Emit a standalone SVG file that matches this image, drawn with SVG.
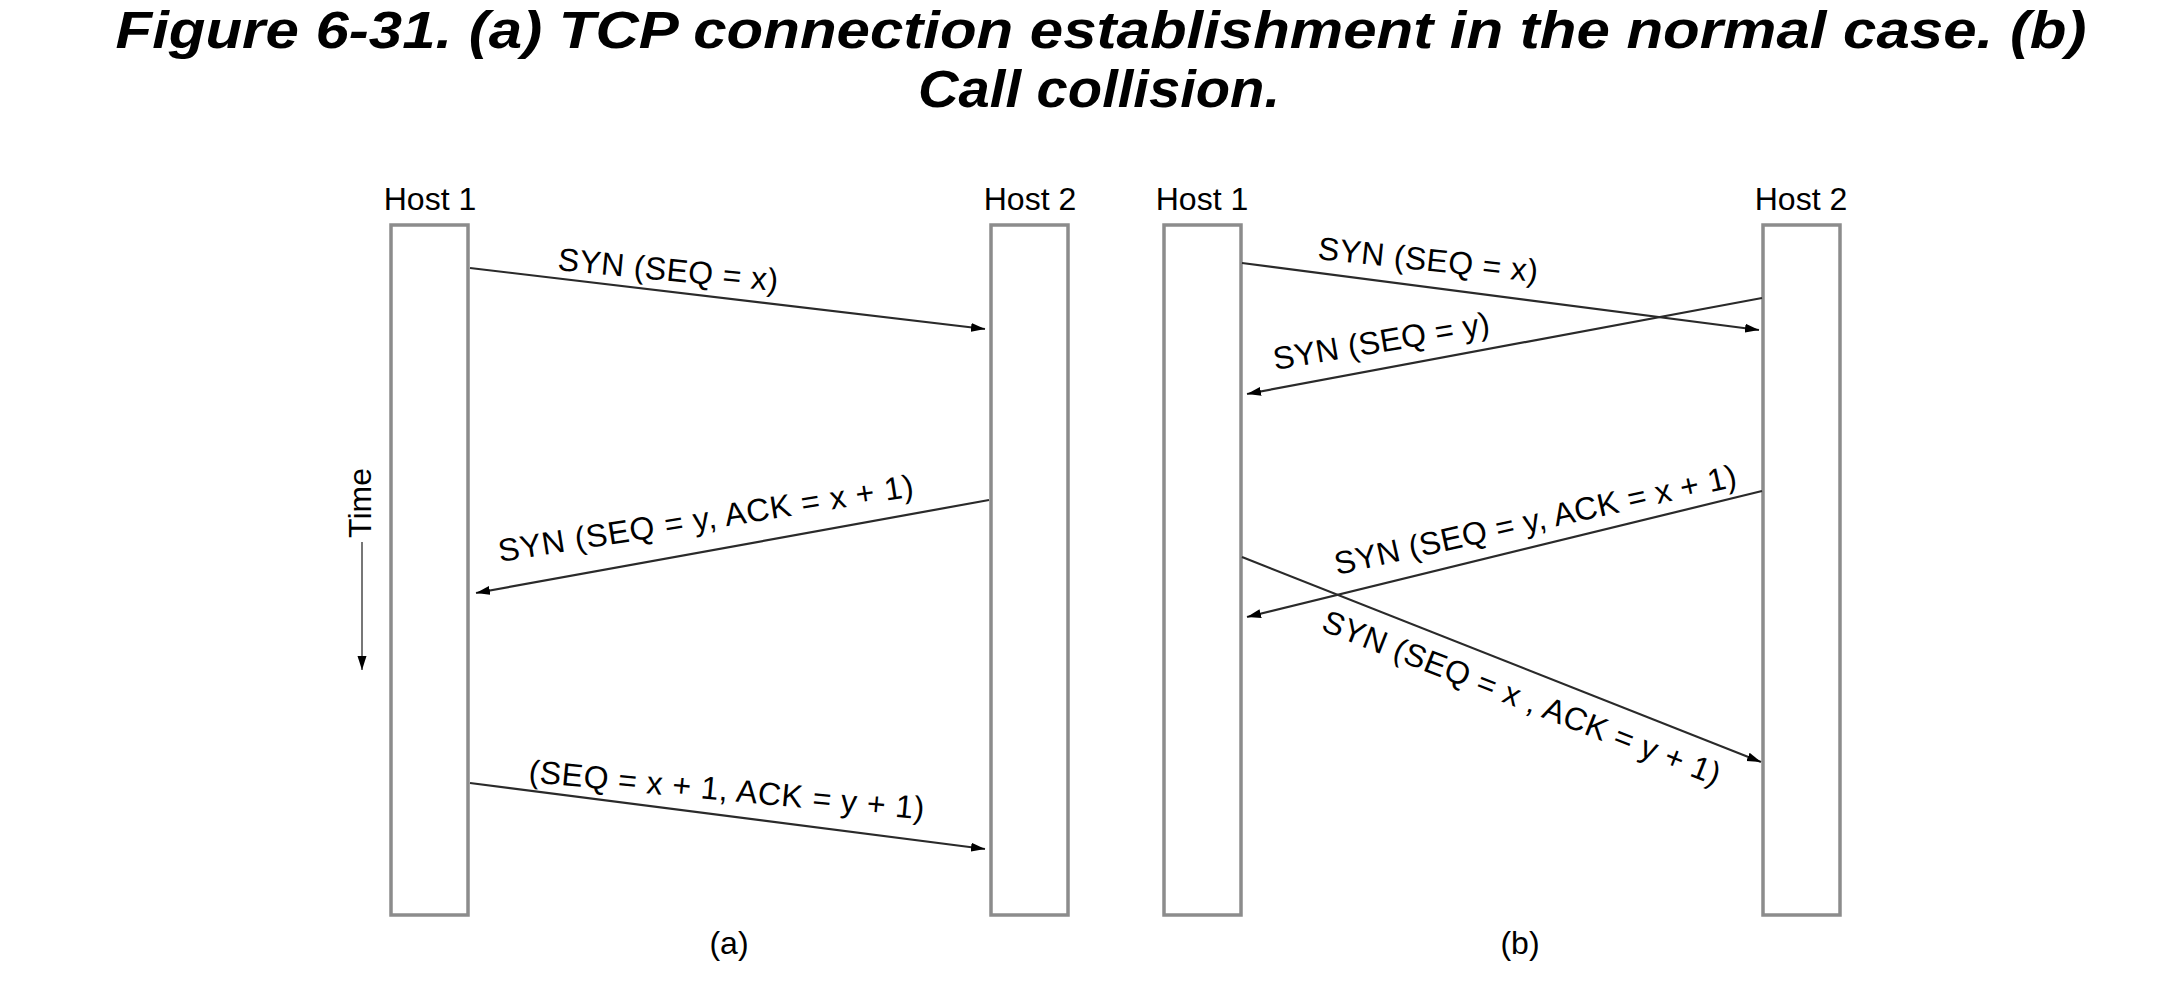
<svg xmlns="http://www.w3.org/2000/svg" width="2165" height="1003" viewBox="0 0 2165 1003">
<style>
.title{font-family:"Liberation Sans",Arial,sans-serif;font-weight:bold;font-style:italic;font-size:51px;fill:#000}
.host{font-family:"Liberation Sans",Arial,sans-serif;font-size:32px;fill:#000}
.lbl{font-family:"Liberation Sans",Arial,sans-serif;font-size:32px;fill:#000}
.box{fill:#fff;stroke:#8c8c8c;stroke-width:3.5}
.msg{stroke:#2a2a2a;stroke-width:2.2;fill:none;marker-end:url(#ah)}
.time{stroke:#777;stroke-width:2;fill:none;marker-end:url(#ah)}
</style>
<defs>
<marker id="ah" viewBox="0 0 14 10" refX="14" refY="5" markerWidth="14" markerHeight="10" markerUnits="userSpaceOnUse" orient="auto">
<path d="M0,0.5 L14,5 L0,9.5 z" fill="#000"/>
</marker>
</defs>
<rect width="2165" height="1003" fill="#fff"/>
<g id="title">
<text class="title" x="1101" y="48" text-anchor="middle" textLength="1971" lengthAdjust="spacingAndGlyphs">Figure 6-31. (a) TCP connection establishment in the normal case. (b)</text>
<text class="title" x="1099" y="107" text-anchor="middle" textLength="362" lengthAdjust="spacingAndGlyphs">Call collision.</text>
</g>
<g id="a-host1">
<text class="host" x="430" y="210" text-anchor="middle">Host 1</text>
<rect class="box" x="391" y="225" width="77" height="690"/>
</g>
<g id="a-host2">
<text class="host" x="1030" y="210" text-anchor="middle">Host 2</text>
<rect class="box" x="991" y="225" width="77" height="690"/>
</g>
<g id="b-host1">
<text class="host" x="1202" y="210" text-anchor="middle">Host 1</text>
<rect class="box" x="1164" y="225" width="77" height="690"/>
</g>
<g id="b-host2">
<text class="host" x="1801" y="210" text-anchor="middle">Host 2</text>
<rect class="box" x="1763" y="225" width="77" height="690"/>
</g>
<g id="time">
<text class="lbl" x="371" y="503" text-anchor="middle" font-size="34" transform="rotate(-90 371 503)">Time</text>
<line class="time" x1="362" y1="542" x2="362" y2="670"/>
</g>
<g id="connectors">
<line class="msg" x1="470" y1="268" x2="985" y2="329"/>
<line class="msg" x1="989" y1="500" x2="476" y2="593"/>
<line class="msg" x1="470" y1="783" x2="985" y2="849"/>
<line class="msg" x1="1242" y1="263" x2="1759" y2="330"/>
<line class="msg" x1="1762" y1="298" x2="1247" y2="394"/>
<line class="msg" x1="1762" y1="491" x2="1247" y2="617"/>
<line class="msg" x1="1242" y1="557" x2="1761" y2="762"/>
</g>
<g id="labels">
<text class="lbl" x="557" y="270" transform="rotate(5.5 557 270)" textLength="221" lengthAdjust="spacing">SYN (SEQ = x)</text>
<text class="lbl" x="500" y="562" transform="rotate(-9 500 562)" textLength="420" lengthAdjust="spacing">SYN (SEQ = y, ACK = x + 1)</text>
<text class="lbl" x="528" y="782" transform="rotate(5.4 528 782)" textLength="397" lengthAdjust="spacing">(SEQ = x + 1, ACK = y + 1)</text>
<text class="lbl" x="1317" y="259" transform="rotate(6 1317 259)" textLength="221" lengthAdjust="spacing">SYN (SEQ = x)</text>
<text class="lbl" x="1275" y="370" transform="rotate(-9.5 1275 370)" textLength="219" lengthAdjust="spacing">SYN (SEQ = y)</text>
<text class="lbl" x="1337" y="575" transform="rotate(-12.5 1337 575)" textLength="411" lengthAdjust="spacing">SYN (SEQ = y, ACK = x + 1)</text>
<text class="lbl" x="1320" y="630" transform="rotate(21.5 1320 630)" textLength="425" lengthAdjust="spacing">SYN (SEQ = x , ACK = y + 1)</text>
<text class="lbl" x="729" y="954" text-anchor="middle">(a)</text>
<text class="lbl" x="1520" y="954" text-anchor="middle">(b)</text>
</g>
</svg>
